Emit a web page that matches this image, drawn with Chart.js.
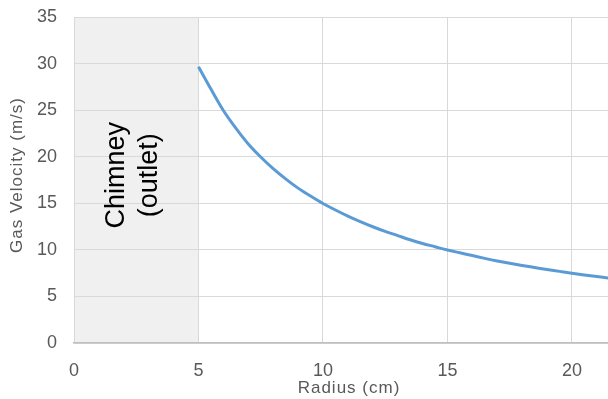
<!DOCTYPE html>
<html>
<head>
<meta charset="utf-8">
<script src="https://cdn.jsdelivr.net/npm/chart.js@4/dist/chart.umd.min.js"></script>
<style>
html,body{margin:0;padding:0;background:#fff;}
#wrap{width:608px;height:399px;position:relative;}
</style>
</head>
<body>
<div id="wrap"><canvas id="c" width="608" height="399"></canvas></div>
<script>
const radius   = [5, 5.5, 6, 6.5, 7, 7.5, 8, 8.5, 9, 9.5, 10, 10.5, 11, 11.5, 12, 12.5, 13, 13.5, 14, 14.5, 15, 15.5, 16, 16.5, 17, 17.5, 18, 18.5, 19, 19.5, 20, 20.5, 21, 21.5, 22];
const velocity = [29.7, 27.3, 25.0, 23.1, 21.4, 20.0, 18.75, 17.65, 16.65, 15.8, 15.0, 14.3, 13.65, 13.05, 12.5, 12.0, 11.55, 11.1, 10.7, 10.35, 10.0, 9.7, 9.4, 9.1, 8.82, 8.57, 8.34, 8.12, 7.9, 7.7, 7.5, 7.32, 7.15, 6.98, 6.82];
const xTicks = [0, 5, 10, 15, 20];
const yTicks = [0, 5, 10, 15, 20, 25, 30, 35];
const chimneyRange = [0, 5];
const chimneyLabel = ["Chimney", "(outlet)"];
const xTitle = "Radius (cm)";
const yTitle = "Gas Velocity (m/s)";

const FONT = "'Liberation Sans', Arial, sans-serif";
const tickColor = '#595959';

const chimneyPlugin = {
  id: 'chimney',
  beforeDraw(chart) {
    const {ctx, chartArea, scales} = chart;
    const x0 = scales.x.getPixelForValue(chimneyRange[0]);
    const x1 = scales.x.getPixelForValue(chimneyRange[1]);
    ctx.save();
    ctx.fillStyle = '#f0f0f0';
    ctx.fillRect(x0, chartArea.top, x1 - x0, chartArea.bottom - chartArea.top);
    ctx.restore();
  },
  afterDatasetsDraw(chart) {
    const {ctx, chartArea, scales} = chart;
    const x0 = scales.x.getPixelForValue(chimneyRange[0]);
    const x1 = scales.x.getPixelForValue(chimneyRange[1]);
    const cx = (x0 + x1) / 2 - 3;
    const cy = (chartArea.top + chartArea.bottom) / 2 - 5;
    ctx.save();
    ctx.translate(cx, cy);
    ctx.rotate(-Math.PI / 2);
    ctx.fillStyle = '#000';
    ctx.font = "27px " + FONT;
    ctx.textAlign = 'center';
    ctx.textBaseline = 'middle';
    const lh = 33;
    chimneyLabel.forEach((t, i) => {
      ctx.fillText(t, 0, (i - (chimneyLabel.length - 1) / 2) * lh);
    });
    ctx.restore();
  },
  afterDraw(chart) {
    const {ctx} = chart;
    ctx.save();
    ctx.letterSpacing = '1px';
    ctx.fillStyle = tickColor;
    ctx.font = "17px " + FONT;
    ctx.textAlign = 'center';
    ctx.textBaseline = 'middle';
    ctx.fillText(xTitle, 349, 388);
    ctx.translate(17, 175);
    ctx.rotate(-Math.PI / 2);
    ctx.fillText(yTitle, 0, 0);
    ctx.restore();
  }
};

new Chart(document.getElementById('c'), {
  type: 'scatter',
  data: {
    datasets: [{
      data: radius.map((r, i) => ({x: r, y: velocity[i]})),
      showLine: true,
      borderColor: '#5b9bd5',
      borderWidth: 3,
      pointRadius: 0,
      cubicInterpolationMode: 'monotone',
      fill: false
    }]
  },
  options: {
    responsive: false,
    animation: false,
    devicePixelRatio: 1,
    layout: {padding: {top: 0, right: 0, left: 0, bottom: 0}},
    plugins: {legend: {display: false}, tooltip: {enabled: false}},
    scales: {
      x: {
        type: 'linear',
        min: 0,
        max: 21.45,
        afterBuildTicks: s => { s.ticks = xTicks.map(v => ({value: v})); },
        afterFit: s => { s.height = 56; },
        grid: {color: '#d9d9d9', lineWidth: 1, drawTicks: false},
        border: {color: '#bfbfbf', width: 1.5},
        ticks: {color: tickColor, font: {family: FONT, size: 18}, padding: 17, maxRotation: 0},
        title: {display: false, text: xTitle}
      },
      y: {
        type: 'linear',
        min: 0,
        max: 35,
        afterBuildTicks: s => { s.ticks = yTicks.map(v => ({value: v})); },
        afterFit: s => { s.width = 74; },
        grid: {color: '#d9d9d9', lineWidth: 1, drawTicks: false},
        border: {display: false},
        ticks: {color: tickColor, font: {family: FONT, size: 18, lineHeight: 0.05}, padding: 17},
        title: {display: false, text: yTitle}
      }
    }
  },
  plugins: [chimneyPlugin]
});
</script>
</body>
</html>
